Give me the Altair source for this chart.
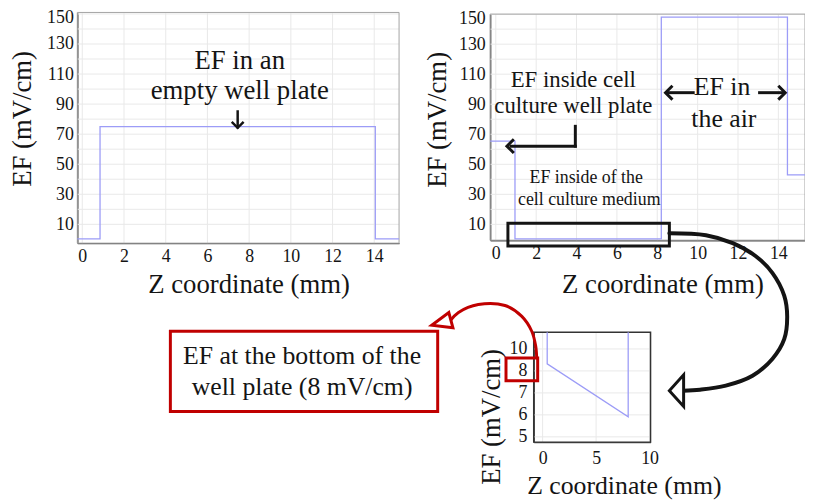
import altair as alt
import pandas as pd

FONT = "Liberation Serif"
INK = "#141414"
LINE = "#9c9cf7"
GRID = "#e9e9e9"
FRAME = "#a3a3a3"
AXIS = "#505050"
RED = "#c00000"
W, H = 805, 496

# ---------------- data ----------------
# (a) EF along Z in an empty well plate
a_z = [-0.24, 0.85, 0.85, 14.05, 14.05, 15.19]
a_ef = [0.4, 0.4, 75.0, 75.0, 0.4, 0.4]
# (b) EF along Z in a cell culture well plate
b_z = [-0.28, 0.95, 0.95, 8.2, 8.2, 14.45, 14.45, 15.32]
b_ef = [65.5, 65.5, 0.3, 0.3, 148.0, 148.0, 43.0, 43.0]
# (c) zoom on the cell culture medium
c_z = [0.43, 0.43, 8.0, 8.0]
c_ef = [9.76, 8.32, 5.91, 9.76]

main_x_ticks = [0, 2, 4, 6, 8, 10, 12, 14]
main_y_ticks = [10, 30, 50, 70, 90, 110, 130]
main_y_top_tick = [150]
main_x_grid = [0, 2, 4, 6, 8, 10, 12, 14]
main_y_grid = [10, 20, 30, 40, 50, 60, 70, 80, 90, 100, 110, 120, 130, 140, 150]
inset_x_ticks = [0, 5, 10]
inset_y_ticks = [5, 6, 7, 8, 9]
inset_x_grid = [0, 5, 10]
inset_y_grid = [5, 6, 7, 8, 9]

# ---------------- panel windows (domain) and placement (pixel range) ----------------
a_xdom, a_xrng = [-0.24, 15.19], [70, 395]
a_ydom, a_yrng = [-2.5, 151.0], [235, 2]
b_xdom, b_xrng = [-0.28, 15.32], [487, 805]
b_ydom, b_yrng = [-0.5, 150.0], [232, 3.7]
c_xdom, c_xrng = [-0.83, 10.09], [531, 649]
c_ydom, c_yrng = [4.76, 9.76], [436, 325]

# ---------------- annotations (in each panel's data units) ----------------
a_notes = ["EF in an", "empty well plate"]
a_notes_z = [7.55, 7.55]
a_notes_ef = [118.7, 98.9]
a_notes_fs = [27, 27]
a_seg = {"x": [7.45], "y": [85.1], "x2": [7.45], "y2": [74.6]}
a_heads = {"x": [7.45], "y": [74.2], "a": [270]}

b_notes = ["EF inside cell", "culture well plate", "EF in", "the air",
           "EF inside of the", "cell culture medium"]
b_notes_z = [3.84, 3.84, 11.21, 11.30, 4.48, 4.63]
b_notes_ef = [106.3, 88.5, 101.4, 79.9, 40.6, 26.1]
b_notes_fs = [23, 23, 26, 26, 18, 18]
b_seg = {"x": [3.94, 3.94, 9.78, 13.07], "y": [75.3, 62.1, 97.7, 97.7],
         "x2": [3.94, 0.75, 8.55, 14.2], "y2": [62.1, 62.1, 97.7, 97.7]}
b_heads = {"x": [0.55, 8.41, 14.34], "y": [62.1, 97.7, 97.7], "a": [0, 0, 180]}
b_box = {"x0": [0.60], "x1": [8.60], "y0": [-4.45], "y1": [10.7]}

# figure-level annotations (page pixel units)
black_curve_x = [676, 713, 740, 763, 780, 792, 795, 792, 780, 760, 733, 707, 690]
black_curve_y = [233, 235, 243, 256, 273, 296, 317, 340, 360, 377, 387, 391, 392]
red_curve_x = [455, 463, 483, 510, 527, 537, 541, 542]
red_curve_y = [321, 313, 305, 306, 317, 332, 347, 359]
red_box = {"x0": [172], "x1": [442], "y0": [332], "y1": [413]}
red_small_box = {"x0": [511], "x1": [543], "y0": [359], "y1": [382]}
red_box_text = ["EF at the bottom of the", "well plate (8 mV/cm)"]
red_box_text_x = [305, 305]
red_box_text_y = [357, 388]

CHEVRON = "M1,-1L0,0L1,1"
TRI_BIG = "M0,0L0.9,-1L0.9,1Z"
TRI_RED = "M0,0L1,-0.4L1,0.4Z"


def make_axis(orient, offset, values, title, tx, ty, lpad, lsize=18, tsize=27,
              expr=None, loff=0, domain=True):
    kw = dict(orient=orient, offset=offset, values=values, title=title,
              labelFont=FONT, labelFontSize=lsize, labelColor=INK, labelPadding=lpad,
              labelFlush=False, labelOverlap=False, ticks=False, grid=False,
              domain=domain, domainColor=AXIS, domainWidth=1.5,
              titleFont=FONT, titleFontSize=tsize, titleFontWeight="normal", titleColor=INK,
              titleX=tx, titleY=ty, titleBaseline="middle", titleAlign="center",
              titleAngle=(270 if orient == "left" else 0))
    if expr:
        kw["labelExpr"] = expr
    if loff:
        kw["labelOffset"] = loff
    return alt.Axis(**kw)


def sc(dom, rng):
    return alt.Scale(domain=dom, range=rng, nice=False, zero=False)


def panel(z, ef, xs, ys, xdom, ydom, xgrid, ygrid, xaxis, yaxis, fcol, fw, top_axis=None):
    gv = alt.Chart(pd.DataFrame({"g": xgrid, "lo": ydom[0], "hi": ydom[1]})).mark_rule(
        color=GRID, strokeWidth=1).encode(
        x=alt.X("g:Q", scale=xs, axis=None), y=alt.Y("lo:Q", scale=ys, axis=None), y2="hi:Q")
    gh = alt.Chart(pd.DataFrame({"g": ygrid, "lo": xdom[0], "hi": xdom[1]})).mark_rule(
        color=GRID, strokeWidth=1).encode(
        y=alt.Y("g:Q", scale=ys, axis=None), x=alt.X("lo:Q", scale=xs, axis=None), x2="hi:Q")
    fr = alt.Chart(pd.DataFrame({"x0": [xdom[0]], "x1": [xdom[1]], "y0": [ydom[0]], "y1": [ydom[1]]})).mark_rect(
        fillOpacity=0, stroke=fcol, strokeWidth=fw).encode(
        x=alt.X("x0:Q", scale=xs, axis=None), x2="x1:Q",
        y=alt.Y("y0:Q", scale=ys, axis=top_axis), y2="y1:Q")
    ln = alt.Chart(pd.DataFrame({"z": z, "ef": ef, "i": list(range(len(z)))})).mark_line(
        color=LINE, strokeWidth=1.3).encode(
        x=alt.X("z:Q", scale=xs, axis=xaxis), y=alt.Y("ef:Q", scale=ys, axis=yaxis), order="i:Q")
    return [gv, gh, fr, ln]


def texts(t, x, y, fs, xs, ys):
    return alt.Chart(pd.DataFrame({"t": t, "x": x, "y": y, "fs": fs})).mark_text(
        font=FONT, color=INK, align="center", baseline="middle").encode(
        x=alt.X("x:Q", scale=xs, axis=None), y=alt.Y("y:Q", scale=ys, axis=None),
        text="t:N", size=alt.Size("fs:Q", scale=None))


def segs(d, xs, ys, color=INK, w=3):
    return alt.Chart(pd.DataFrame(d)).mark_rule(color=color, strokeWidth=w, strokeCap="square").encode(
        x=alt.X("x:Q", scale=xs, axis=None), y=alt.Y("y:Q", scale=ys, axis=None), x2="x2:Q", y2="y2:Q")


def heads(d, xs, ys, shape, size, fill=None, stroke=INK, w=3):
    kw = dict(shape=shape, size=size, stroke=stroke, strokeWidth=w, opacity=1)
    if fill:
        kw.update(filled=True, fill=fill)
    else:
        kw.update(filled=False)
    return alt.Chart(pd.DataFrame(d)).mark_point(**kw).encode(
        x=alt.X("x:Q", scale=xs, axis=None), y=alt.Y("y:Q", scale=ys, axis=None),
        angle=alt.Angle("a:Q", scale=None))


def box(d, xs, ys, stroke, w, fill=None):
    kw = dict(stroke=stroke, strokeWidth=w)
    if fill:
        kw.update(fill=fill, fillOpacity=1)
    else:
        kw.update(fillOpacity=0)
    return alt.Chart(pd.DataFrame(d)).mark_rect(**kw).encode(
        x=alt.X("x0:Q", scale=xs, axis=None), x2="x1:Q",
        y=alt.Y("y0:Q", scale=ys, axis=None), y2="y1:Q")


def curve(cx, cy, xs, ys, color, w):
    return alt.Chart(pd.DataFrame({"x": cx, "y": cy, "i": list(range(len(cx)))})).mark_line(
        color=color, strokeWidth=w, interpolate="catmull-rom", strokeCap="round").encode(
        x=alt.X("x:Q", scale=xs, axis=None), y=alt.Y("y:Q", scale=ys, axis=None), order="i:Q")


# ---------------- panel (a) ----------------
axs, ays = sc(a_xdom, a_xrng), sc(a_ydom, a_yrng)
pa = panel(a_z, a_ef, axs, ays, a_xdom, a_ydom, main_x_grid, main_y_grid,
           make_axis("bottom", a_yrng[0] - H, main_x_ticks, "Z coordinate (mm)", 243, 42, 5),
           make_axis("left", -a_xrng[0], main_y_ticks, "EF (mV/cm)", -55, 109, 4),
           FRAME, 1,
           top_axis=make_axis("left", -a_xrng[0], main_y_top_tick, "", 0, 0, 4, loff=4, domain=False))
pa += [texts(a_notes, a_notes_z, a_notes_ef, a_notes_fs, axs, ays),
       segs(a_seg, axs, ays, w=2.5),
       heads(a_heads, axs, ays, CHEVRON, 144, w=2.5)]

# ---------------- panel (b) ----------------
bxs, bys = sc(b_xdom, b_xrng), sc(b_ydom, b_yrng)
pb = panel(b_z, b_ef, bxs, bys, b_xdom, b_ydom, main_x_grid, main_y_grid,
           make_axis("bottom", b_yrng[0] - H, main_x_ticks, "Z coordinate (mm)", 661, 45, 5),
           make_axis("left", -b_xrng[0], main_y_ticks, "EF (mV/cm)", -53, 110, 5),
           FRAME, 1,
           top_axis=make_axis("left", -b_xrng[0], main_y_top_tick, "", 0, 0, 5, loff=4, domain=False))
pb += [texts(b_notes, b_notes_z, b_notes_ef, b_notes_fs, bxs, bys),
       segs(b_seg, bxs, bys),
       heads(b_heads, bxs, bys, CHEVRON, 196),
       box(b_box, bxs, bys, INK, 3)]

# ---------------- panel (c) ----------------
cxs, cys = sc(c_xdom, c_xrng), sc(c_ydom, c_yrng)
pc = panel(c_z, c_ef, cxs, cys, c_xdom, c_ydom, inset_x_grid, inset_y_grid,
           make_axis("bottom", c_yrng[0] - H, inset_x_ticks, "Z coordinate (mm)", 622, 44, 8, tsize=26),
           make_axis("left", -c_xrng[0], inset_y_ticks, "EF (mV/cm)", -43, 410, 7,
                     expr="datum.value == 9 ? '10' : datum.label"),
           "#333333", 1.5)

# ---------------- figure-level overlay ----------------
oxs = alt.Scale(domain=[8, 8 + W], range=[0, W], nice=False, zero=False)
oys = alt.Scale(domain=[8, 8 + H], range=[0, H], nice=False, zero=False)
ov = [
    curve(black_curve_x, black_curve_y, oxs, oys, INK, 4),
    heads({"x": [676], "y": [392], "a": [0]}, oxs, oys, TRI_BIG, 1024, fill="white", stroke=INK, w=3),
    box(red_box, oxs, oys, RED, 3, fill="white"),
    texts(red_box_text, red_box_text_x, red_box_text_y, [26, 26], oxs, oys),
    box(red_small_box, oxs, oys, RED, 3),
    curve(red_curve_x, red_curve_y, oxs, oys, RED, 3),
    heads({"x": [436], "y": [326], "a": [345]}, oxs, oys, TRI_RED, 1600, fill="white", stroke=RED, w=3),
]

chart = alt.layer(*(pa + pb + pc + ov)).resolve_scale(
    x="independent", y="independent"
).resolve_axis(
    x="independent", y="independent"
).properties(
    width=W, height=H, padding=0, autosize=alt.AutoSizeParams(type="none"), background="white"
).configure_view(strokeWidth=0)

chart.save("out.html", embed_options={"renderer": "svg", "actions": False})
